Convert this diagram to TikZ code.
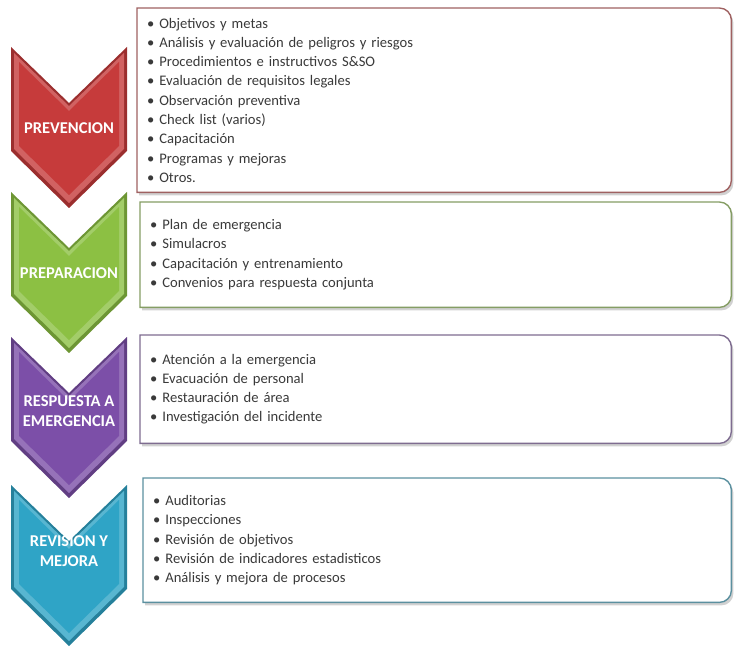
\documentclass[tikz,border=0pt]{standalone}
\usepackage{fontspec}
\setmainfont{Carlito}
\definecolor{rojo}{HTML}{C63B3B}
\definecolor{verde}{HTML}{8CC043}
\definecolor{morado}{HTML}{7C4FA8}
\definecolor{azul}{HTML}{2FA4C6}
\definecolor{texto}{HTML}{3A3A3A}
% chevron: #1 top y, #2 colour
\newcommand{\flecha}[2]{%
  \begin{scope}[shift={(0,#1)}]
    \fill[#2!78!black] (11,0) -- (69,56) -- (127,0) -- (127,104) -- (69,161) -- (11,104) -- cycle;
    \fill[#2!80!white] (14,6) -- (69,59) -- (124,6) -- (124,102) -- (69,156) -- (14,102) -- cycle;
    \fill[#2] (19,15) -- (69,64) -- (119,15) -- (119,99) -- (69,148) -- (19,99) -- cycle;
  \end{scope}}
% frame with rounded right corners round a node
\newcommand{\marco}[2]{%
  \fill[black!18] ([shift={(2,3)}]#1.south west) -- ([shift={(2,3)}]#1.north west)
    [rounded corners=12pt] -- ([shift={(2,3)}]#1.north east) -- ([shift={(2,3)}]#1.south east)
    [sharp corners] -- ([shift={(2,3)}]#1.south west) -- cycle;
  \draw[#2, line width=1.4pt, fill=white] (#1.south west) -- (#1.north west)
    [rounded corners=12pt] -- (#1.north east) -- (#1.south east)
    [sharp corners] -- (#1.south west) -- cycle;}
\begin{document}
\begin{tikzpicture}[
        x=1pt, y=-1pt,
        etiqueta/.style={text=white, font=\fontsize{16.5}{20}\selectfont\bfseries, align=center}, % texto de la flecha
        lista/.style={anchor=north west, inner xsep=10pt, inner ysep=0pt, align=left,
            text=texto, font=\fontsize{14.6}{19.3}\selectfont, text width=560pt}, % caja de la derecha
    ]
    \useasboundingbox (0,0) rectangle (734,647);

    % flechas
    \flecha{47}{rojo}
    \flecha{192}{verde}
    \flecha{337}{morado}
    \flecha{485}{azul}

    \node[etiqueta] (prev) at (69,128) {PREVENCION};
    \node[etiqueta] (prep) at (69,273) {PREPARACION};
    \node[etiqueta] (resp) at (69,411) {RESPUESTA A\\EMERGENCIA};
    \node[etiqueta] (revi) at (69,551) {REVISION Y\\MEJORA};

    % cajas
    \node[lista, minimum width=594pt, minimum height=184pt] (cprev) at (137,8) {};
    \node[lista, minimum width=591pt, minimum height=105pt] (cprep) at (140,202) {};
    \node[lista, minimum width=591pt, minimum height=108pt] (cresp) at (140,335) {};
    \node[lista, minimum width=588pt, minimum height=124pt] (crevi) at (143,478) {};
    \marco{cprev}{rojo!45!gray}
    \marco{cprep}{verde!45!gray}
    \marco{cresp}{morado!40!gray}
    \marco{crevi}{azul!45!gray}

    \node[lista, anchor=west] (tprev) at (cprev.west) {%
        \textbullet\ Objetivos y metas\\
        \textbullet\ Análisis y evaluación de peligros y riesgos\\
        \textbullet\ Procedimientos e instructivos S\&SO\\
        \textbullet\ Evaluación de requisitos legales\\
        \textbullet\ Observación preventiva\\
        \textbullet\ Check list (varios)\\
        \textbullet\ Capacitación\\
        \textbullet\ Programas y mejoras\\
        \textbullet\ Otros.};
    \node[lista, anchor=west] (tprep) at (cprep.west) {%
        \textbullet\ Plan de emergencia\\
        \textbullet\ Simulacros\\
        \textbullet\ Capacitación y entrenamiento\\
        \textbullet\ Convenios para respuesta conjunta};
    \node[lista, anchor=west] (tresp) at (cresp.west) {%
        \textbullet\ Atención a la emergencia\\
        \textbullet\ Evacuación de personal\\
        \textbullet\ Restauración de área\\
        \textbullet\ Investigación del incidente};
    \node[lista, anchor=west] (trevi) at (crevi.west) {%
        \textbullet\ Auditorias\\
        \textbullet\ Inspecciones\\
        \textbullet\ Revisión de objetivos\\
        \textbullet\ Revisión de indicadores estadisticos\\
        \textbullet\ Análisis y mejora de procesos};
\end{tikzpicture}
\end{document}
